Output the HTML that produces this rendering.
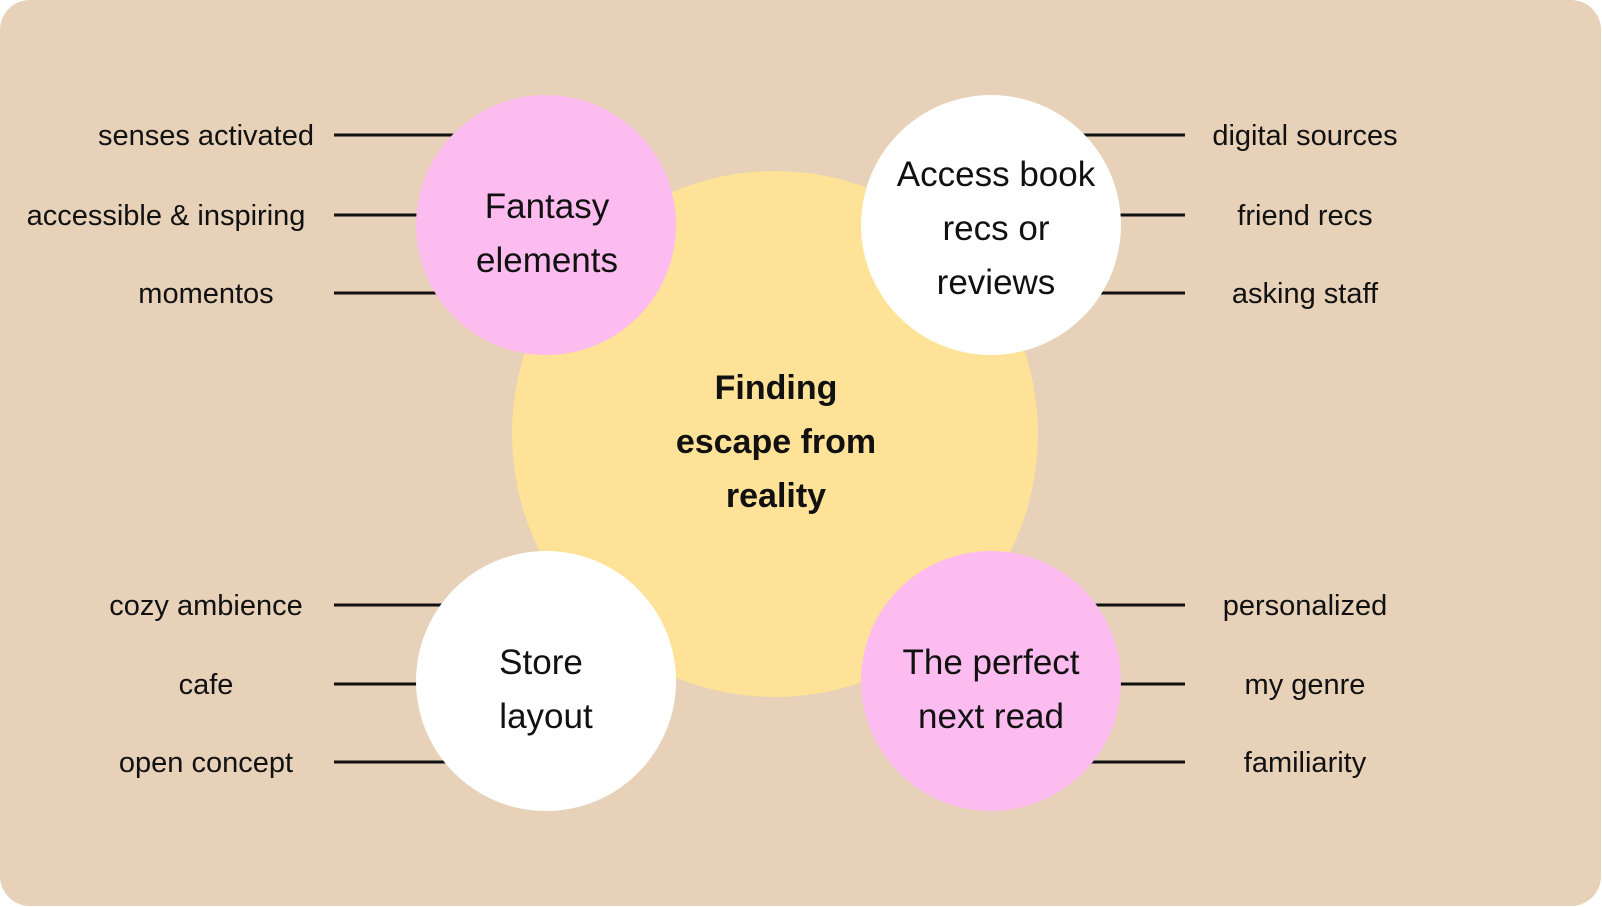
<!DOCTYPE html>
<html><head><style>
html,body{margin:0;padding:0;background:#fff;}
svg{display:block}
text{font-family:"Liberation Sans",sans-serif;fill:#111;}
</style></head><body>
<svg width="1602" height="907" viewBox="0 0 1602 907">
<rect x="0" y="0" width="1601" height="906" rx="30" fill="#e7d1b8"/>
<circle cx="775" cy="434" r="263" fill="#fde298"/>
<g stroke="#111" stroke-width="3">
<line x1="334" y1="135" x2="546" y2="135"/>
<line x1="334" y1="215" x2="546" y2="215"/>
<line x1="334" y1="293" x2="546" y2="293"/>
<line x1="334" y1="605" x2="546" y2="605"/>
<line x1="334" y1="684" x2="546" y2="684"/>
<line x1="334" y1="762" x2="546" y2="762"/>
<line x1="991" y1="135" x2="1185" y2="135"/>
<line x1="991" y1="215" x2="1185" y2="215"/>
<line x1="991" y1="293" x2="1185" y2="293"/>
<line x1="991" y1="605" x2="1185" y2="605"/>
<line x1="991" y1="684" x2="1185" y2="684"/>
<line x1="991" y1="762" x2="1185" y2="762"/>
</g>
<circle cx="546" cy="225" r="130" fill="#fcbcef"/>
<circle cx="991" cy="225" r="130" fill="#fff"/>
<circle cx="546" cy="681" r="130" fill="#fff"/>
<circle cx="991" cy="681" r="130" fill="#fcbcef"/>
<g font-size="29" text-anchor="middle">
<text x="206" y="145">senses activated</text>
<text x="166" y="225">accessible &amp; inspiring</text>
<text x="206" y="303">momentos</text>
<text x="206" y="615">cozy ambience</text>
<text x="206" y="694">cafe</text>
<text x="206" y="772">open concept</text>
<text x="1305" y="145">digital sources</text>
<text x="1305" y="225">friend recs</text>
<text x="1305" y="303">asking staff</text>
<text x="1305" y="615">personalized</text>
<text x="1305" y="694">my genre</text>
<text x="1305" y="772">familiarity</text>
</g>
<g font-size="35" text-anchor="middle">
<text x="547" y="218">Fantasy</text>
<text x="547" y="272">elements</text>
<text x="996" y="186">Access book</text>
<text x="996" y="240">recs or</text>
<text x="996" y="294">reviews</text>
<text x="541" y="674">Store</text>
<text x="546" y="728">layout</text>
<text x="991" y="674">The perfect</text>
<text x="991" y="728">next read</text>
</g>
<g font-size="34" font-weight="bold" text-anchor="middle">
<text x="776" y="399">Finding</text>
<text x="776" y="453">escape from</text>
<text x="776" y="507">reality</text>
</g>
</svg>
</body></html>
